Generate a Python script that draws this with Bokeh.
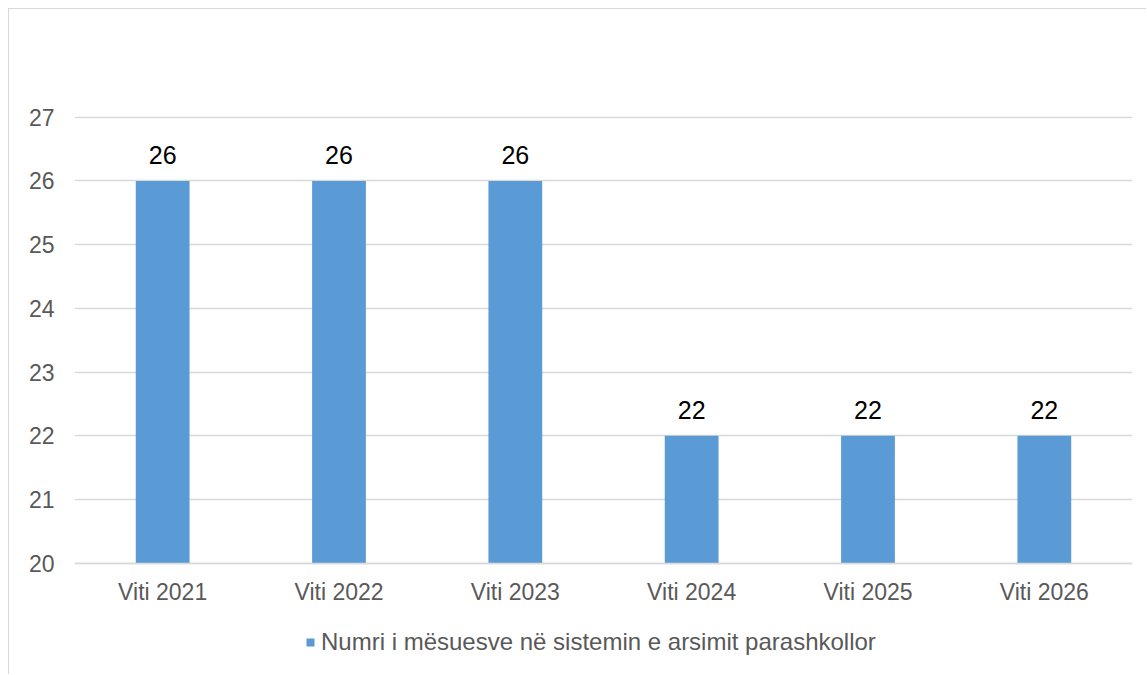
from bokeh.plotting import figure
from bokeh.models import ColumnDataSource, Range1d, FixedTicker, Legend, LegendItem
from bokeh.embed import file_html
from bokeh.resources import INLINE
from bokeh.core.properties import value

categories = ["Viti 2021", "Viti 2022", "Viti 2023", "Viti 2024", "Viti 2025", "Viti 2026"]
values = [26, 26, 26, 22, 22, 22]
labels = [str(v) for v in values]
series_name = "Numri i mësuesve në sistemin e arsimit parashkollor"
y_ticks = [20, 21, 22, 23, 24, 25, 26, 27]
baseline = 20

FONT = "Liberation Sans"
FS = "23px"

src = ColumnDataSource(dict(cat=categories, val=values, lab=labels))

p = figure(x_range=categories, y_range=Range1d(18.237, 27.262), width=1138, height=666,
           output_backend="svg", toolbar_location=None,
           min_border_left=65, min_border_right=15, min_border_top=91, min_border_bottom=0)
p.styles = {"margin-left": "8px", "margin-top": "8px",
            "border-left": "1px solid #d9d9d9", "border-top": "1px solid #d9d9d9"}
p.outline_line_color = None
p.background_fill_color = "white"
p.border_fill_color = "white"

r = p.vbar(x="cat", top="val", bottom=baseline, width=0.305, source=src,
           fill_color="#5b9bd5", line_color=None)

p.text(x="cat", y="val", text="lab", source=src, text_align="center",
       text_baseline="middle", y_offset=-26, text_font=value(FONT),
       text_font_size="25px", text_color="#000000")

p.xgrid.grid_line_color = None
p.ygrid.grid_line_color = "#d9d9d9"
p.ygrid.grid_line_width = 1.5
p.yaxis.ticker = FixedTicker(ticks=y_ticks)

p.yaxis.axis_line_color = None
p.yaxis.major_tick_line_color = None
p.yaxis.minor_tick_line_color = None
p.yaxis.major_tick_out = 0
p.yaxis.minor_tick_out = 0
p.yaxis.major_label_standoff = 20
p.yaxis.major_label_text_font = FONT
p.yaxis.major_label_text_font_size = FS
p.yaxis.major_label_text_color = "#595959"

p.xaxis.fixed_location = baseline
p.xaxis.axis_line_color = "#d9d9d9"
p.xaxis.axis_line_width = 1.5
p.xaxis.major_tick_line_color = None
p.xaxis.minor_tick_line_color = None
p.xaxis.major_tick_out = 0
p.xaxis.minor_tick_out = 0
p.xaxis.major_label_standoff = 16
p.xaxis.major_label_text_font = FONT
p.xaxis.major_label_text_font_size = FS
p.xaxis.major_label_text_color = "#595959"

legend = Legend(items=[LegendItem(label=series_name, renderers=[r])],
                location=(231, 19), orientation="horizontal")
legend.border_line_color = None
legend.background_fill_alpha = 0
legend.padding = 0
legend.margin = 0
legend.label_standoff = 6
legend.glyph_width = 10
legend.glyph_height = 10
legend.label_height = 24
legend.label_text_font = FONT
legend.label_text_font_size = "24px"
legend.label_text_color = "#595959"
p.add_layout(legend, "center")

open("out.html", "w").write(file_html(p, INLINE))
